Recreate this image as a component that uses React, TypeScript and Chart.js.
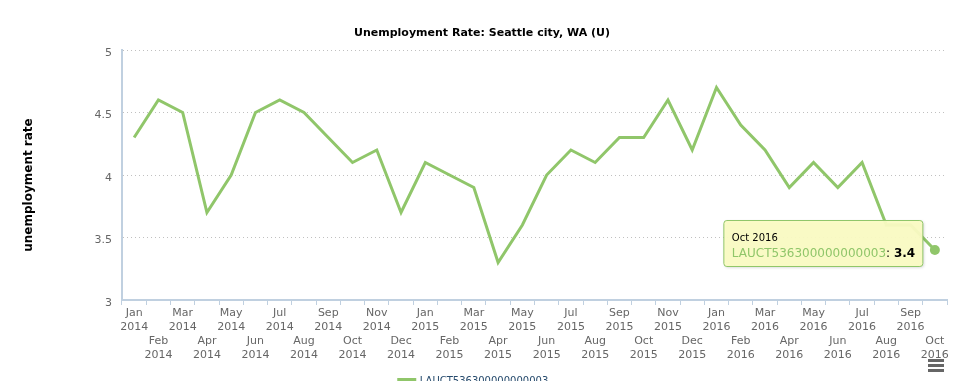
import React, { useEffect, useRef } from "react";
import { Chart, registerables } from "chart.js";

Chart.register(...registerables);

const chartTitle = "Unemployment Rate: Seattle city, WA (U)";
const yAxisTitle = "unemployment rate";
const seriesName = "LAUCT536300000000003";

const months = [
  "Jan", "Feb", "Mar", "Apr", "May", "Jun", "Jul", "Aug", "Sep", "Oct", "Nov", "Dec",
  "Jan", "Feb", "Mar", "Apr", "May", "Jun", "Jul", "Aug", "Sep", "Oct", "Nov", "Dec",
  "Jan", "Feb", "Mar", "Apr", "May", "Jun", "Jul", "Aug", "Sep", "Oct",
];
const years = [
  "2014", "2014", "2014", "2014", "2014", "2014", "2014", "2014", "2014", "2014", "2014", "2014",
  "2015", "2015", "2015", "2015", "2015", "2015", "2015", "2015", "2015", "2015", "2015", "2015",
  "2016", "2016", "2016", "2016", "2016", "2016", "2016", "2016", "2016", "2016",
];
const rates = [
  4.3, 4.6, 4.5, 3.7, 4.0, 4.5, 4.6, 4.5, 4.3, 4.1, 4.2, 3.7,
  4.1, 4.0, 3.9, 3.3, 3.6, 4.0, 4.2, 4.1, 4.3, 4.3, 4.6, 4.2,
  4.7, 4.4, 4.2, 3.9, 4.1, 3.9, 4.1, 3.6, 3.6, 3.4,
];
const yTicks = [3, 3.5, 4, 4.5, 5];
const highlightIndex = 33;

const categories = months.map((m, i) => `${m} ${years[i]}`);

const GREEN = "#90C66A";
const FONT = "'DejaVu Sans', Verdana, sans-serif";

const decorPlugin = {
  id: "decor",
  afterDraw(chart: any) {
    const ctx = chart.ctx as CanvasRenderingContext2D;
    const area = chart.chartArea;

    // chart title
    ctx.save();
    ctx.font = `bold 11px ${FONT}`;
    ctx.fillStyle = "#000";
    ctx.textAlign = "center";
    ctx.textBaseline = "middle";
    ctx.fillText(chartTitle, chart.width / 2, 33);
    ctx.restore();

    // y axis title
    ctx.save();
    ctx.translate(29, (area.top + area.bottom) / 2 + 10);
    ctx.rotate(-Math.PI / 2);
    ctx.font = `bold 12px ${FONT}`;
    ctx.fillStyle = "#000";
    ctx.textAlign = "center";
    ctx.textBaseline = "middle";
    ctx.fillText(yAxisTitle, 0, 0);
    ctx.restore();

    // tooltip
    const meta = chart.getDatasetMeta(0);
    const pt = meta.data[highlightIndex];
    if (pt) {
      const w = 199;
      const h = 46;
      const bx = pt.x - 12 - w;
      const by = pt.y - 29.5;
      const r = 3;
      ctx.save();
      ctx.shadowColor = "rgba(0,0,0,0.18)";
      ctx.shadowBlur = 3;
      ctx.shadowOffsetX = 1;
      ctx.shadowOffsetY = 1;
      ctx.beginPath();
      ctx.moveTo(bx + r, by);
      ctx.lineTo(bx + w - r, by);
      ctx.arcTo(bx + w, by, bx + w, by + r, r);
      ctx.lineTo(bx + w, by + h - r);
      ctx.arcTo(bx + w, by + h, bx + w - r, by + h, r);
      ctx.lineTo(bx + r, by + h);
      ctx.arcTo(bx, by + h, bx, by + h - r, r);
      ctx.lineTo(bx, by + r);
      ctx.arcTo(bx, by, bx + r, by, r);
      ctx.closePath();
      ctx.fillStyle = "rgba(251,252,196,0.95)";
      ctx.fill();
      ctx.shadowColor = "transparent";
      ctx.lineWidth = 1;
      ctx.strokeStyle = GREEN;
      ctx.stroke();

      ctx.textBaseline = "middle";
      ctx.textAlign = "left";
      ctx.font = `10px ${FONT}`;
      ctx.fillStyle = "#000";
      ctx.fillText(categories[highlightIndex], bx + 8, by + 17.5);

      let tx = bx + 8;
      const ty = by + 33.5;
      ctx.font = `12px ${FONT}`;
      ctx.fillStyle = GREEN;
      ctx.fillText(seriesName, tx, ty);
      tx += ctx.measureText(seriesName).width;
      ctx.fillStyle = "#000";
      ctx.fillText(": ", tx, ty);
      tx += ctx.measureText(": ").width;
      ctx.font = `bold 12px ${FONT}`;
      ctx.fillText(String(rates[highlightIndex]), tx, ty);
      ctx.restore();
    }

    // export menu icon
    ctx.save();
    ctx.fillStyle = "#666";
    const ix = chart.width - 36;
    [360, 365, 370].forEach((y) => {
      ctx.fillRect(ix, y - 1, 16, 3);
    });
    ctx.restore();
  },
};

export default function App() {
  const ref = useRef<HTMLCanvasElement | null>(null);

  useEffect(() => {
    if (!ref.current) return;
    Chart.defaults.font.family = FONT;
    const chart = new Chart(ref.current, {
      type: "line",
      data: {
        labels: categories,
        datasets: [
          {
            label: seriesName,
            data: rates,
            borderColor: GREEN,
            backgroundColor: GREEN,
            borderWidth: 3,
            tension: 0,
            fill: false,
            pointRadius: (c: any) => (c.dataIndex === highlightIndex ? 5 : 0),
            pointBackgroundColor: GREEN,
            pointBorderWidth: 0,
          },
        ],
      },
      options: {
        animation: false,
        responsive: false,
        events: [],
        layout: { padding: { left: 0, right: 17, top: 50, bottom: 0 } },
        plugins: {
          title: { display: false },
          legend: {
            display: true,
            position: "bottom",
            labels: {
              boxWidth: 16,
              boxHeight: 3,
              color: "#274b6d",
              font: { size: 10, family: FONT },
              padding: 13,
            },
          },
          tooltip: { enabled: false },
        },
        scales: {
          x: {
            type: "category",
            offset: true,
            grid: {
              offset: true,
              drawOnChartArea: false,
              drawTicks: true,
              tickLength: 5,
              tickColor: "#C0D0E0",
              tickWidth: 1,
            },
            border: { display: true, color: "#C0D0E0", width: 2 },
            ticks: {
              autoSkip: false,
              maxRotation: 0,
              minRotation: 0,
              padding: 1,
              color: "#666",
              font: { size: 11, family: FONT, lineHeight: "14px" },
              callback: (_v: any, i: number) =>
                i % 2 === 0 ? [months[i], years[i]] : ["", "", months[i], years[i]],
            },
          },
          y: {
            min: 3,
            max: 5,
            afterFit: (s: any) => {
              s.width = 122;
            },
            afterBuildTicks: (s: any) => {
              s.ticks = yTicks.map((v) => ({ value: v }));
            },
            grid: {
              color: "#C0C0C0",
              drawTicks: false,
              lineWidth: 1,
            },
            border: { display: true, color: "#C0D0E0", width: 2, dash: [1, 3] },
            ticks: {
              padding: 10,
              labelOffset: 3,
              color: "#666",
              font: { size: 11, family: FONT },
              callback: (v: any) => String(v),
            },
          },
        },
      },
      plugins: [decorPlugin],
    } as any);
    return () => chart.destroy();
  }, []);

  return (
    <div
      style={{
        position: "fixed",
        left: 0,
        top: 0,
        width: 964,
        height: 381,
        overflow: "hidden",
        background: "#fff",
      }}
    >
      <canvas ref={ref} width={964} height={396} style={{ width: 964, height: 396, display: "block" }} />
    </div>
  );
}
